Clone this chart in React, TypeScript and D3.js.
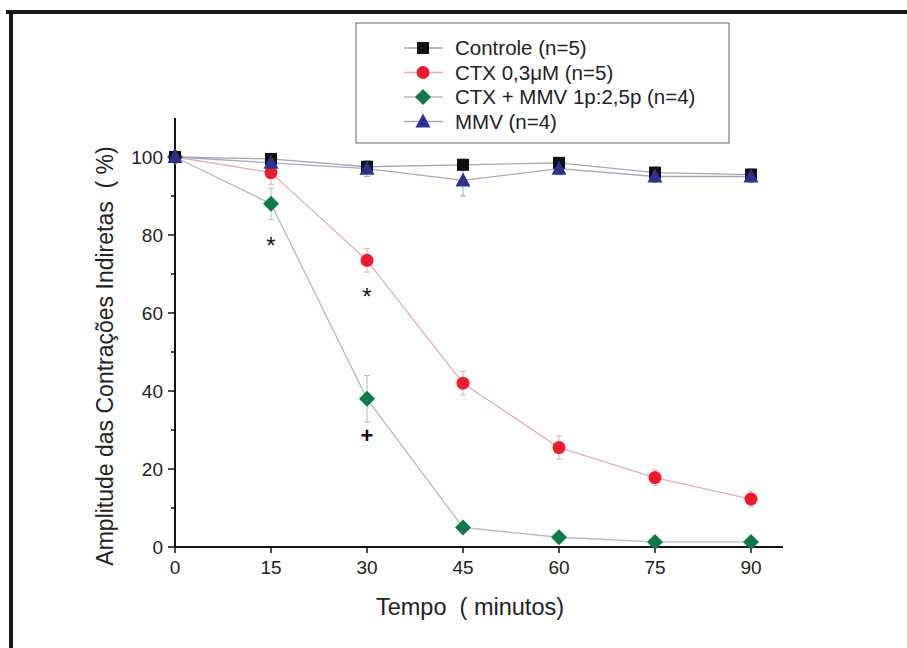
import React from "react";
import * as d3 from "d3";

const times = [0, 15, 30, 45, 60, 75, 90];
const xTicks = [0, 15, 30, 45, 60, 75, 90];
const yTicks = [0, 20, 40, 60, 80, 100];
const yMinorTicks = [10, 30, 50, 70, 90];

const controle = [100, 99.5, 97.5, 98, 98.5, 96, 95.5];
const controleErr = [0, 1, 1.5, 1.5, 1, 1.5, 1.5];
const ctx = [100, 96, 73.5, 42, 25.5, 17.8, 12.3];
const ctxErr = [0, 3, 3, 3, 3, 2, 2];
const ctxMmv = [100, 88, 38, 5, 2.5, 1.3, 1.3];
const ctxMmvErr = [0, 4, 6, 1, 1, 0.5, 0.5];
const mmv = [100, 98.5, 97, 94, 97, 95, 95];
const mmvErr = [0, 1, 2, 4, 1.5, 1.5, 1.5];

const legendLabels = [
  "Controle (n=5)",
  "CTX 0,3\u03bcM (n=5)",
  "CTX + MMV 1p:2,5p (n=4)",
  "MMV (n=4)",
];

const annotations = [
  { t: 15, v: 78, s: "*" },
  { t: 30, v: 65, s: "*" },
  { t: 30, v: 28.7, s: "+" },
];

type Shape = "square" | "circle" | "diamond" | "triangle";

const series: { values: number[]; err: number[]; color: string; line: string; shape: Shape }[] = [
  { values: ctx, err: ctxErr, color: "#ef1a2d", line: "#dcb0b6", shape: "circle" },
  { values: ctxMmv, err: ctxMmvErr, color: "#0e7a47", line: "#b0bcb6", shape: "diamond" },
  { values: controle, err: controleErr, color: "#111111", line: "#a6a6b0", shape: "square" },
  { values: mmv, err: mmvErr, color: "#2f3192", line: "#a6a6c0", shape: "triangle" },
];

const legendOrder: Shape[] = ["square", "circle", "diamond", "triangle"];

function Marker({ shape, x, y, color }: { shape: Shape; x: number; y: number; color: string }) {
  if (shape === "square") return <rect x={x - 6} y={y - 6} width={12} height={12} fill={color} />;
  if (shape === "circle") return <circle cx={x} cy={y} r={6.5} fill={color} />;
  if (shape === "diamond")
    return <path d={`M${x},${y - 8}L${x + 8},${y}L${x},${y + 8}L${x - 8},${y}Z`} fill={color} />;
  return <path d={`M${x},${y - 8}L${x + 7.5},${y + 6}L${x - 7.5},${y + 6}Z`} fill={color} />;
}

export default function App() {
  const W = 907;
  const H = 648;
  const x = d3.scaleLinear().domain([0, 95]).range([175, 783]);
  const y = d3.scaleLinear().domain([0, 110]).range([547, 118]);
  const font = "'Liberation Sans', Arial, sans-serif";
  const line = d3
    .line<number>()
    .x((_, i) => x(times[i]))
    .y((d) => y(d));

  return (
    <svg
      width={W}
      height={H}
      style={{ position: "absolute", left: 0, top: 0, background: "#fff" }}
      fontFamily={font}
    >
      <rect x={0} y={0} width={W} height={H} fill="#fff" />
      {/* frame */}
      <line x1={6} y1={12} x2={W} y2={12} stroke="#1a1a1a" strokeWidth={4} />
      <line x1={11} y1={10} x2={11} y2={H} stroke="#1a1a1a" strokeWidth={4} />

      {/* axes */}
      <line x1={x(0)} y1={y(110)} x2={x(0)} y2={y(0)} stroke="#111" strokeWidth={2} />
      <line x1={x(0)} y1={y(0)} x2={x(95)} y2={y(0)} stroke="#111" strokeWidth={2} />
      {yTicks.map((t) => (
        <g key={"y" + t}>
          <line x1={x(0) - 7} x2={x(0)} y1={y(t)} y2={y(t)} stroke="#111" strokeWidth={1.5} />
          <text x={x(0) - 12} y={y(t) + 6.5} textAnchor="end" fontSize={19} fill="#222">
            {t}
          </text>
        </g>
      ))}
      {yMinorTicks.map((t) => (
        <line key={"ym" + t} x1={x(0) - 4} x2={x(0)} y1={y(t)} y2={y(t)} stroke="#111" strokeWidth={1.5} />
      ))}
      {xTicks.map((t) => (
        <g key={"x" + t}>
          <line x1={x(t)} x2={x(t)} y1={y(0)} y2={y(0) + 6} stroke="#111" strokeWidth={1.5} />
          <text x={x(t)} y={y(0) + 27} textAnchor="middle" fontSize={19} fill="#222">
            {t}
          </text>
        </g>
      ))}
      <text x={470} y={615} textAnchor="middle" fontSize={23.5} fill="#222">
        Tempo{"\u00a0\u00a0"}( minutos)
      </text>
      <text
        transform={`translate(113, 356) rotate(-90)`}
        textAnchor="middle"
        fontSize={23}
        fill="#222"
      >
        Amplitude das Contrações Indiretas{"\u00a0\u00a0"}( %)
      </text>

      {/* lines */}
      {series.map((s, i) => (
        <path key={"l" + i} d={line(s.values) || ""} fill="none" stroke={s.line} strokeWidth={1.3} />
      ))}
      {/* error bars */}
      {series.map((s, i) =>
        s.values.map((v, j) =>
          s.err[j] > 0 ? (
            <g key={`e${i}-${j}`} stroke={s.line} strokeWidth={1}>
              <line x1={x(times[j])} x2={x(times[j])} y1={y(v + s.err[j])} y2={y(v - s.err[j])} />
              <line x1={x(times[j]) - 3} x2={x(times[j]) + 3} y1={y(v + s.err[j])} y2={y(v + s.err[j])} />
              <line x1={x(times[j]) - 3} x2={x(times[j]) + 3} y1={y(v - s.err[j])} y2={y(v - s.err[j])} />
            </g>
          ) : null
        )
      )}
      {/* markers */}
      {series.map((s, i) =>
        s.values.map((v, j) => (
          <Marker key={`m${i}-${j}`} shape={s.shape} x={x(times[j])} y={y(v)} color={s.color} />
        ))
      )}
      {/* annotations */}
      {annotations.map((a, i) => (
        <text
          key={"a" + i}
          x={x(a.t)}
          y={y(a.v) + (a.s === "*" ? 11 : 8)}
          textAnchor="middle"
          fontSize={a.s === "*" ? 24 : 22}
          fontWeight={a.s === "*" ? "normal" : "bold"}
          fill="#111"
        >
          {a.s}
        </text>
      ))}

      {/* legend */}
      <rect x={356} y={23} width={373} height={120} fill="#fff" stroke="#666" strokeWidth={1} />
      {legendOrder.map((shape, i) => {
        const s = series.find((d) => d.shape === shape)!;
        const ly = 48 + i * 24.5;
        return (
          <g key={"lg" + i}>
            <line x1={404} x2={443} y1={ly} y2={ly} stroke={s.line} strokeWidth={1.3} />
            <Marker shape={shape} x={423} y={ly} color={s.color} />
            <text x={455} y={ly + 7} fontSize={20.5} fill="#222">
              {legendLabels[i]}
            </text>
          </g>
        );
      })}
    </svg>
  );
}
